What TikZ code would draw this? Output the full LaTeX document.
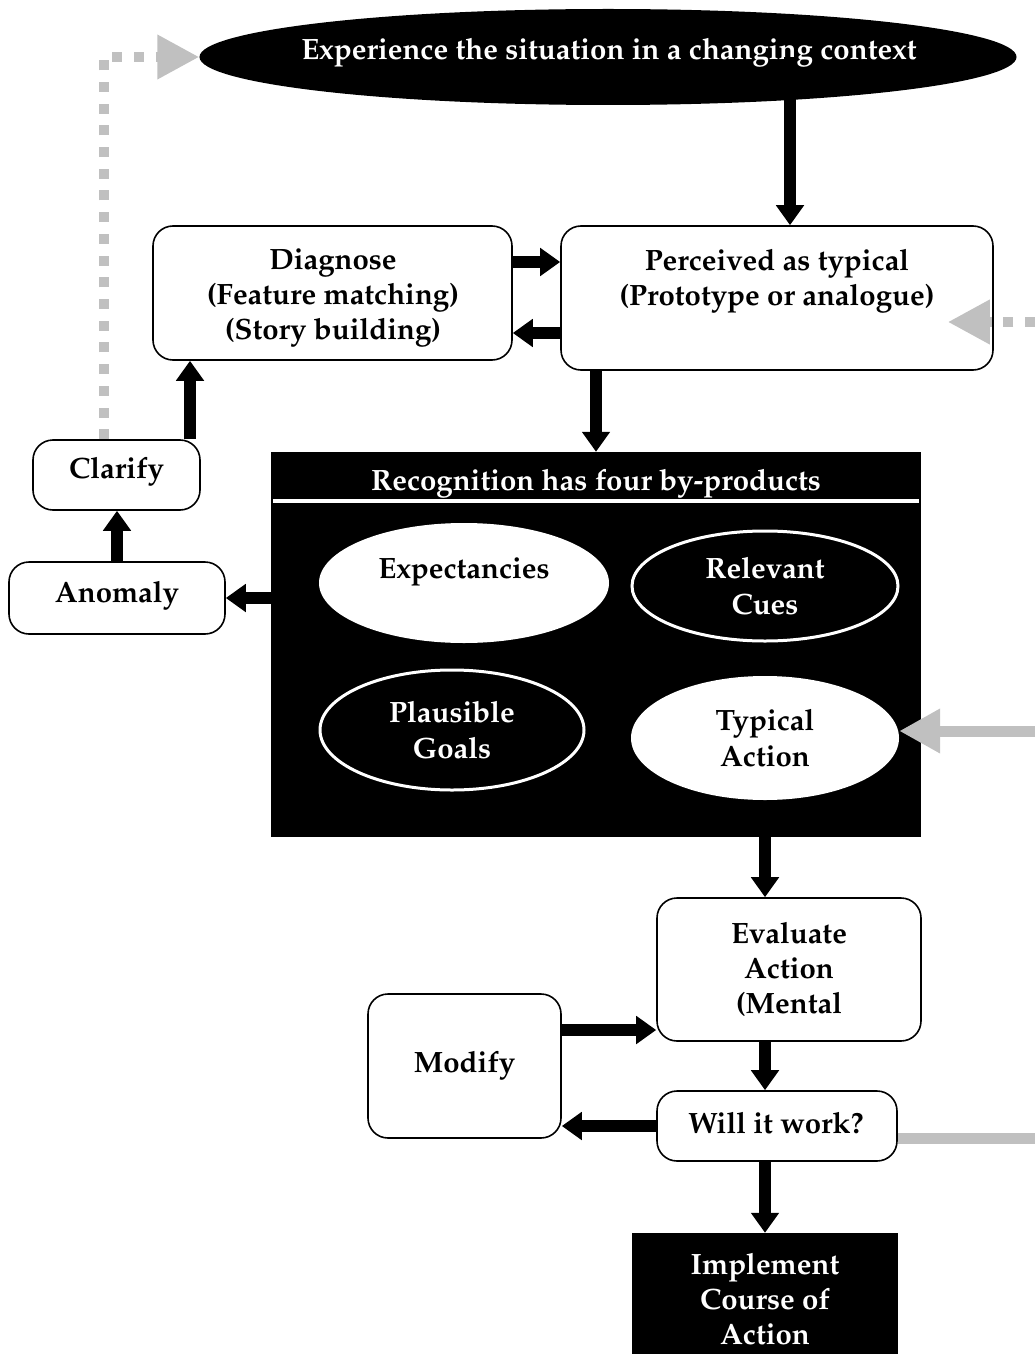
\documentclass[tikz,border=0pt]{standalone}
\usepackage[T1]{fontenc}
\usepackage{mathpazo}
\usetikzlibrary{arrows.meta,shapes.geometric}
\definecolor{arrgray}{RGB}{192,192,192}
\newcommand\lbl{\fontsize{29.5}{35.5}\selectfont\bfseries}
\tikzset{
  box/.style={draw, line width=1.6bp, rounded corners=20bp, fill=white,
    inner sep=0pt, align=center, font=\lbl},
  blackbox/.style={fill=black, text=white, inner sep=0pt, align=center, font=\lbl},
  txt/.style={inner sep=0pt, align=center, font=\lbl},
  oval/.style={ellipse, inner sep=0pt, align=center, font=\lbl},
  blk/.style={line width=12bp, -{Triangle[width=27bp,length=20bp]}},
  gsolid/.style={draw=arrgray, line width=11bp},
  garrow/.style={gsolid, -{Triangle[width=42bp,length=41bp,fill=arrgray]}},
  gdot/.style={draw=arrgray, line width=10bp, dash pattern=on 10bp off 11.7bp,
    -{Triangle[width=42bp,length=42bp,fill=arrgray]}},
}
\begin{document}
\begin{tikzpicture}[x=1bp,y=-1bp]
\useasboundingbox (0,0) rectangle (1035,1354);

% top oval
\node[oval, fill=black, minimum width=817bp, minimum height=96bp] (top) at (608,57) {};
\node[txt, text=white] (toptext) at (609,53) {Experience the situation in a changing context};

% upper boxes
\node[box, minimum width=359bp, minimum height=134bp] (diag) at (332.5,293) {};
\node[txt] (diagtext) at (333,298) {Diagnose\\(Feature matching)\\(Story building)};
\node[box, minimum width=432bp, minimum height=144bp] (perc) at (777,298) {};
\node[txt] (perctext) at (777,281) {Perceived as typical\\(Prototype or analogue)};

% left boxes
\node[box, minimum width=167bp, minimum height=70bp] (clar) at (116.5,475) {};
\node[txt] (clartext) at (116.5,472) {Clarify};
\node[box, minimum width=216bp, minimum height=72bp] (anom) at (117,598) {};
\node[txt] (anomtext) at (117,596) {Anomaly};

% recognition panel
\node[fill=black, minimum width=650bp, minimum height=385bp, inner sep=0pt] (rec) at (596,644.5) {};
\node[txt, text=white] (rechead) at (596,484) {Recognition has four by-products};
\coordinate (hl) at (0,501);
\draw[white, line width=3.5bp] ([xshift=2bp]rec.west |- hl) -- ([xshift=-2bp]rec.east |- hl);
\node[oval, fill=white, minimum width=290bp, minimum height=120bp] (exp) at (464,583) {};
\node[txt] (exptext) at (464,572) {Expectancies};
\node[oval, fill=black, draw=white, line width=3bp, text=white,
  minimum width=266bp, minimum height=110bp] (cues) at (765,586) {Relevant\\Cues};
\node[oval, fill=black, draw=white, line width=3bp, text=white,
  minimum width=264bp, minimum height=120bp] (goals) at (452,730) {Plausible\\Goals};
\node[oval, fill=white, minimum width=268bp, minimum height=124bp] (act) at (765,738) {Typical\\Action};

% lower boxes
\node[box, minimum width=264bp, minimum height=143bp] (eval) at (789,969.5) {Evaluate\\Action\\(Mental};
\node[box, minimum width=193bp, minimum height=144bp] (mod) at (464.5,1066) {Modify};
\node[box, minimum width=240bp, minimum height=70bp] (will) at (777,1126) {};
\node[txt] (willtext) at (776,1123) {Will it work?};
\node[blackbox, minimum width=266bp, minimum height=132bp] (impl) at (765,1299)
  {Implement\\Course of\\Action};

% black connectors
\draw[blk] ([xshift=13bp]perc.north |- top.center) -- ([xshift=13bp]perc.north);
\draw[blk] ([yshift=31bp]diag.east) -- ([yshift=31bp]diag.east -| perc.west);
\draw[blk] ([yshift=-40bp]diag.east -| perc.west) -- ([yshift=-40bp]diag.east);
\draw[blk] ([xshift=-181bp]perc.south) -- ([xshift=-181bp]perc.south |- rec.north);
\draw[blk] (rec.west |- anom.east) -- (anom.east);
\draw[blk] (anom.north) -- (anom.north |- clar.south);
\draw[blk] ([xshift=73.5bp]clar.north) -- ([xshift=73.5bp]clar.north |- diag.south);
\draw[blk] (impl.north |- rec.south) -- (impl.north |- eval.north);
\draw[blk] (impl.north |- eval.south) -- (impl.north |- will.north);
\draw[blk] (impl.north |- will.south) -- (impl.north);
\draw[blk] ([yshift=-60.5bp]eval.west -| mod.east) -- ([yshift=-60.5bp]eval.west);
\draw[blk] (will.west) -- (will.west -| mod.east);

% gray feedback connectors
\coordinate (rt1) at (1035,322);
\coordinate (rt2) at (1035,731);
\coordinate (rt3) at (1035,1138);
\draw[gdot] ([xshift=-12.5bp]clar.north) |- (top.west);
\draw[gdot] (rt1) -- ([xshift=-46bp]perc.east |- rt1);
\draw[garrow] (rt2) -- (rt2 -| act.east);
\draw[gsolid] ([yshift=-12bp]will.east) -- ([yshift=-12bp]will.east -| rt3);
\end{tikzpicture}
\end{document}
